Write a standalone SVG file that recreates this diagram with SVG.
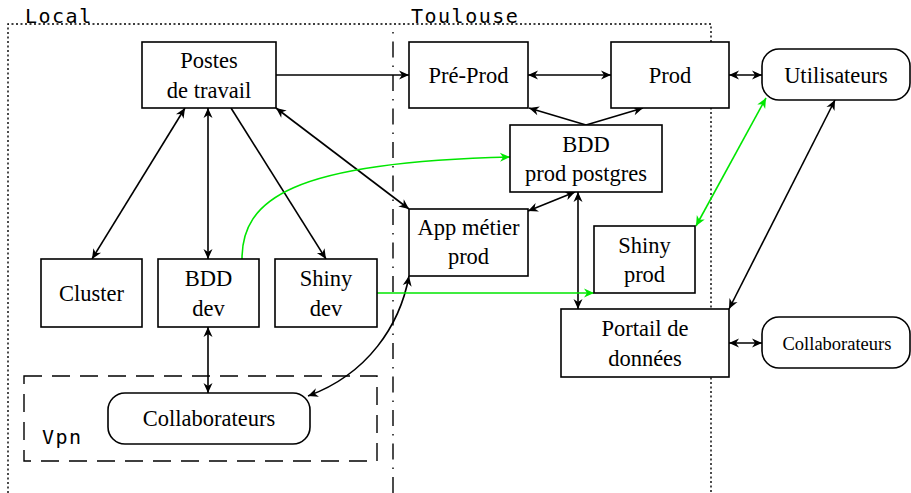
<svg xmlns="http://www.w3.org/2000/svg" width="911" height="493" viewBox="0 0 911 493">
<style>
.box{fill:#fff;stroke:#000;stroke-width:1.6}
.t{font-family:"Liberation Serif","Times New Roman",serif;font-size:22.5px;fill:#000;text-anchor:middle}
.ts{font-family:"Liberation Serif","Times New Roman",serif;font-size:18.5px;fill:#000;text-anchor:middle}
.mono{font-family:"DejaVu Sans Mono","Liberation Mono",monospace;font-size:20px;letter-spacing:1.5px;fill:#000}
.c{fill:none;stroke:#000;stroke-width:1.6}
.g{fill:none;stroke:#00e600;stroke-width:1.6}
.a1{marker-end:url(#ah)}
.a2{marker-start:url(#ah);marker-end:url(#ah)}
.ga1{marker-end:url(#gh)}
.ga2{marker-start:url(#gh);marker-end:url(#gh)}
.dot{fill:none;stroke:#000;stroke-width:1.4;stroke-dasharray:2 2.5}
</style>
<defs>
<marker id="ah" viewBox="-11 -6 12 12" refX="0" refY="0" markerWidth="12" markerHeight="12" markerUnits="userSpaceOnUse" orient="auto-start-reverse">
<path d="M0,0 L-10,-4.5 L-7,0 L-10,4.5 z" fill="#000"/>
</marker>
<marker id="gh" viewBox="-11 -6 12 12" refX="0" refY="0" markerWidth="12" markerHeight="12" markerUnits="userSpaceOnUse" orient="auto-start-reverse">
<path d="M0,0 L-10,-4.5 L-7,0 L-10,4.5 z" fill="#00e600"/>
</marker>
</defs>
<rect width="911" height="493" fill="#fff"/>
<g id="regions">
<path class="dot" d="M8,493 V24 H711 V493"/>
<path d="M393,493 V25" fill="none" stroke="#000" stroke-width="1.4" stroke-dasharray="16 8 1.5 8"/>
<rect x="24" y="376" width="353" height="85" fill="none" stroke="#000" stroke-width="1.4" stroke-dasharray="18 10"/>
<text class="mono" x="25" y="23">Local</text>
<text class="mono" x="411" y="23">Toulouse</text>
<text class="mono" x="42" y="444">Vpn</text>
</g>
<g id="connectors">
<path class="c a1" d="M276,75 H409"/>
<path class="c a2" d="M528,75 H611"/>
<path class="c a2" d="M729,75 H762"/>
<path class="c a1" d="M586,125 L529,108"/>
<path class="c a1" d="M586,125 L643,108"/>
<path class="c a2" d="M185,108 L92,259"/>
<path class="c a2" d="M208,108 V259"/>
<path class="c a1" d="M231,108 L326,259"/>
<path class="c a2" d="M276,108 L409,209"/>
<path class="c a2" d="M208,327 V393"/>
<path class="c a2" d="M528,211 L575,192"/>
<path class="c a2" d="M578,192 V309"/>
<path class="c a2" d="M835,100 L729,309"/>
<path class="c a2" d="M729,343 H762"/>
<path class="c a2" d="M308,396 C368,374 400,325 409,276"/>
<path class="g ga1" d="M242,259 C242,200 290,162 510,157"/>
<path class="g ga1" d="M377,293 H594"/>
<path class="g ga2" d="M696,226 L766,98"/>
</g>
<g id="postes"><rect class="box" x="142" y="42" width="134" height="66"/><text class="t" x="209" y="68">Postes</text><text class="t" x="209" y="98">de travail</text></g>
<g id="preprod"><rect class="box" x="409" y="42" width="119" height="66"/><text class="t" x="468.5" y="83">Pré-Prod</text></g>
<g id="prod"><rect class="box" x="611" y="42" width="118" height="66"/><text class="t" x="670" y="83">Prod</text></g>
<g id="utilisateurs"><rect class="box" x="762" y="49" width="148" height="51" rx="17"/><text class="t" x="836" y="83">Utilisateurs</text></g>
<g id="bddprod"><rect class="box" x="510" y="125" width="152" height="67"/><text class="t" x="586" y="152">BDD</text><text class="t" x="586" y="181">prod postgres</text></g>
<g id="appmetier"><rect class="box" x="409" y="209" width="119" height="67"/><text class="t" x="468.5" y="235">App métier</text><text class="t" x="468.5" y="264">prod</text></g>
<g id="shinyprod"><rect class="box" x="594" y="226" width="101" height="67"/><text class="t" x="644.5" y="253">Shiny</text><text class="t" x="644.5" y="282">prod</text></g>
<g id="portail"><rect class="box" x="561" y="309" width="168" height="68"/><text class="t" x="645" y="336">Portail de</text><text class="t" x="645" y="366">données</text></g>
<g id="collab-right"><rect class="box" x="762" y="317" width="148" height="51" rx="17"/><text class="ts" x="837" y="350">Collaborateurs</text></g>
<g id="cluster"><rect class="box" x="41" y="259" width="101" height="68"/><text class="t" x="91.5" y="301">Cluster</text></g>
<g id="bdddev"><rect class="box" x="158" y="259" width="101" height="68"/><text class="t" x="208.5" y="286">BDD</text><text class="t" x="208.5" y="316">dev</text></g>
<g id="shinydev"><rect class="box" x="275" y="259" width="102" height="68"/><text class="t" x="326" y="286">Shiny</text><text class="t" x="326" y="316">dev</text></g>
<g id="collab-vpn"><rect class="box" x="108" y="393" width="202" height="51" rx="17"/><text class="t" x="209" y="426">Collaborateurs</text></g>
</svg>
